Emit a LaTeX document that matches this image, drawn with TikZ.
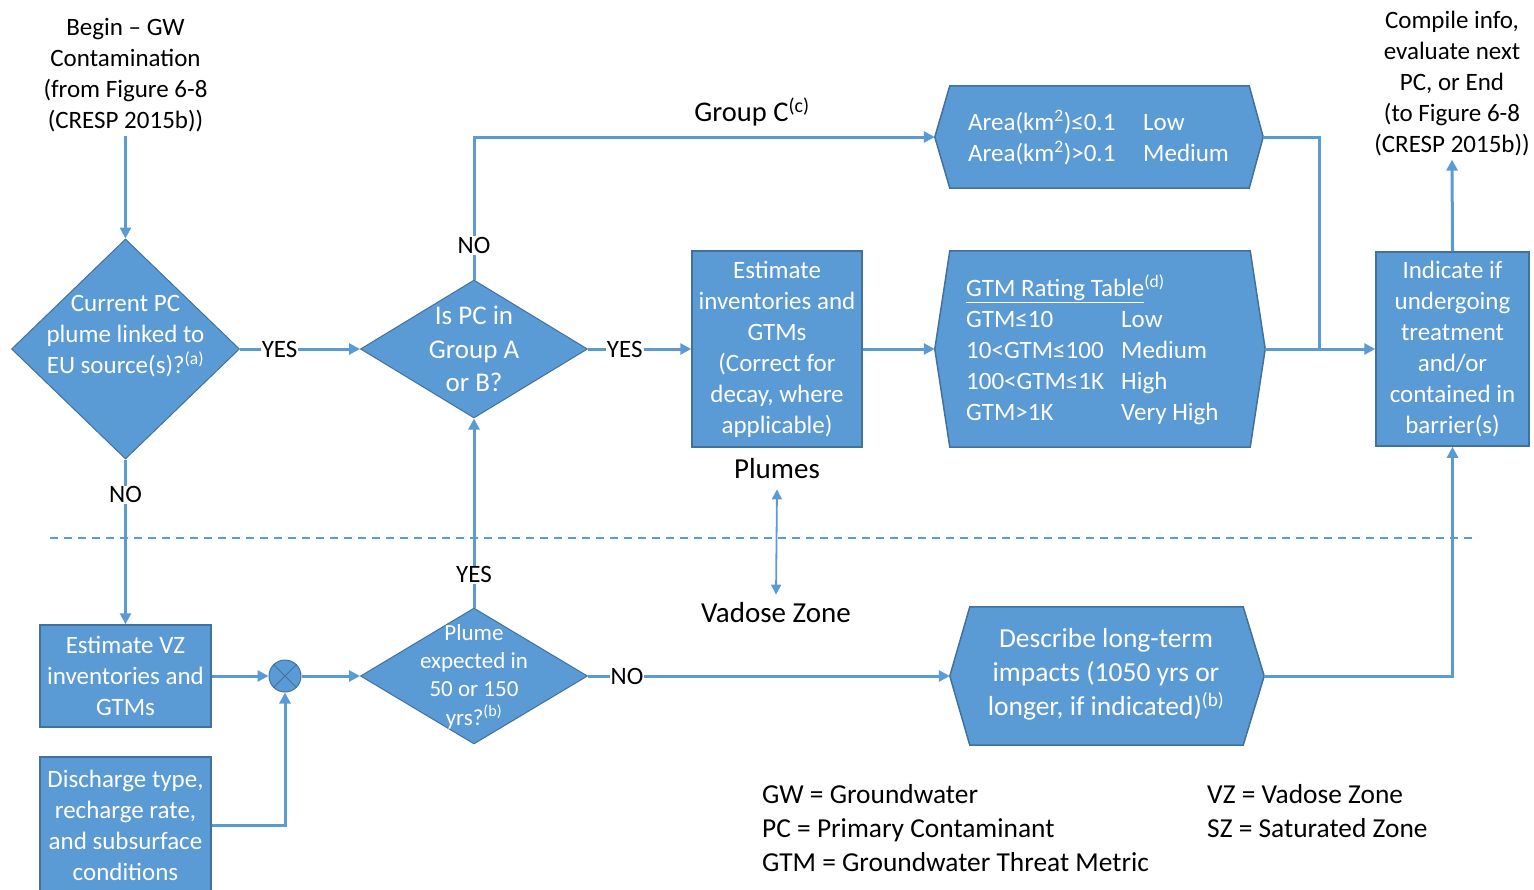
\documentclass[tikz,border=0pt]{standalone}
\usepackage{fontspec}
\setmainfont{Carlito}
\usetikzlibrary{arrows.meta,shapes.geometric,calc}
\definecolor{boxfill}{RGB}{91,155,213}
\definecolor{boxedge}{RGB}{65,113,156}
\definecolor{linec}{RGB}{91,155,213}
\newcommand{\fsz}[2]{\fontsize{#1}{#2}\selectfont}
\begin{document}
\begin{tikzpicture}[x=1pt,y=-1pt,
  tip/.tip={Triangle[length=11pt,width=11pt]},
  flow/.style={draw=linec, line width=3pt, -tip},
  plain/.style={draw=linec, line width=3pt},
  boxst/.style={rectangle, fill=boxfill, draw=boxedge, line width=1.5pt, text=white, align=center, font=\fsz{25}{31}, inner sep=0pt},
  dia/.style={diamond, fill=boxfill, draw=boxedge, line width=1pt, inner sep=0pt, aspect=1},
  anchorbox/.style={rectangle, inner sep=0pt},
  hexst/.style={fill=boxfill, draw=boxedge, line width=1.5pt},
  wtext/.style={text=white, align=center, font=\fsz{25}{31}, inner sep=0pt},
  btext/.style={text=black, align=center, font=\fsz{25}{31}, inner sep=3pt},
  lab/.style={fill=white, text=black, inner sep=1pt, font=\fsz{25}{30}}
]
\useasboundingbox (0,0) rectangle (1534,889);

% ---------- free texts ----------
\node[btext] (begin) at (125.5,75.5) {Begin – GW\\Contamination\\(from Figure 6-8\\(CRESP 2015b))};
\node[btext] (compile) at (1452,84) {Compile info,\\evaluate next\\PC, or End\\(to Figure 6-8\\(CRESP 2015b))};
\node[btext, font=\fsz{28.5}{34}] (groupc) at (752,112) {Group C\textsuperscript{(c)}};
\node[btext, font=\fsz{29}{34}] (plumes) at (777,469) {Plumes};
\node[btext, font=\fsz{29}{34}] (vadose) at (776,613) {Vadose Zone};

% ---------- diamonds ----------
\node[dia, minimum width=228pt, minimum height=220pt] (d1) at (125.5,349) {};
\node[wtext] at (125.5,336.5) {Current PC\\plume linked to\\EU source(s)?\textsuperscript{(a)}};
\node[dia, minimum width=227pt, minimum height=138pt] (d2) at (474,349) {};
\node[wtext, font=\fsz{27}{33.5}] at (474,349) {Is PC in\\Group A\\or B?};
\node[dia, minimum width=227pt, minimum height=136pt] (d3) at (474,676) {};
\node[wtext, font=\fsz{23}{28.3}] at (474,676.5) {Plume\\expected in\\50 or 150\\yrs?\textsuperscript{(b)}};

% ---------- boxes ----------
\node[boxst, minimum width=171pt, minimum height=102pt] (vzbox) at (125.5,676) {Estimate VZ\\inventories and\\GTMs};
\node[boxst, minimum width=171pt, minimum height=136pt] (disc) at (125.5,825) {Discharge type,\\recharge rate,\\and subsurface\\conditions};
\node[boxst, minimum width=170pt, minimum height=196pt] (est) at (777,349) {Estimate\\inventories and\\GTMs\\(Correct for\\decay, where\\applicable)};
\node[boxst, minimum width=153pt, minimum height=194pt] (ind) at (1452.5,349) {Indicate if\\undergoing\\treatment\\and/or\\contained in\\barrier(s)};

% ---------- hexagons ----------
\node[anchorbox, minimum width=328pt, minimum height=102pt] (h1) at (1099,137) {};
\node[anchorbox, minimum width=330pt, minimum height=196pt] (h2) at (1100,349) {};
\node[anchorbox, minimum width=314pt, minimum height=138pt] (h3) at (1107,676) {};
\path[hexst] (h1.west) -- ([xshift=15pt]h1.north west) -- ([xshift=-14pt]h1.north east) -- (h1.east) -- ([xshift=-14pt]h1.south east) -- ([xshift=15pt]h1.south west) -- cycle;
\path[hexst] (h2.west) -- ([xshift=15pt]h2.north west) -- ([xshift=-15pt]h2.north east) -- (h2.east) -- ([xshift=-15pt]h2.south east) -- ([xshift=15pt]h2.south west) -- cycle;
\path[hexst] (h3.west) -- ([xshift=20pt]h3.north west) -- ([xshift=-21pt]h3.north east) -- (h3.east) -- ([xshift=-21pt]h3.south east) -- ([xshift=20pt]h3.south west) -- cycle;
\node[wtext, anchor=west, align=left] at (968,137.5) {\makebox[175pt][l]{Area(km\textsuperscript{2})≤0.1}Low\\\makebox[175pt][l]{Area(km\textsuperscript{2})>0.1}Medium};
\node[wtext, anchor=west, align=left] at (966,350) {\underline{GTM Rating Table}\textsuperscript{(d)}\\\makebox[155pt][l]{GTM≤10}Low\\\makebox[155pt][l]{10<GTM≤100}Medium\\\makebox[155pt][l]{100<GTM≤1K}High\\\makebox[155pt][l]{GTM>1K}Very High};
\node[wtext, font=\fsz{27.5}{34}] at (1106,674) {Describe long-term\\impacts (1050 yrs or\\longer, if indicated)\textsuperscript{(b)}};

% ---------- summing junction ----------
\node[circle, minimum size=32pt, inner sep=0pt, fill=boxfill, draw=boxedge, line width=1pt] (sum) at (285,676) {};
\draw[boxedge, line width=1pt] (sum.north west) -- (sum.south east) (sum.north east) -- (sum.south west);

% ---------- connectors ----------
\coordinate (join) at (1319,349);
\draw[flow] (begin.south) -- (d1.north);
\draw[flow] (d1.east) -- node[lab, pos=0.33] {YES} (d2.west);
\draw[flow] (d1.south) -- node[lab, pos=0.214] {NO} (vzbox.north);
\draw[flow] (vzbox.east) -- (sum.west);
\draw[flow] (disc.east) -| (sum.south);
\draw[flow] (sum.east) -- (d3.west);
\draw[flow] (d3.north) -- node[lab, pos=0.173] {YES} (d2.south);
\draw[flow] (d2.north) |- node[lab, pos=0.119] {NO} (h1.west);
\draw[flow] (d2.east) -- node[lab, pos=0.356] {YES} (est.west);
\draw[flow] (est.east) -- (h2.west);
\draw[flow] (h2.east) -- (ind.west);
\draw[plain] (h1.east) -| (join);
\draw[flow] (d3.east) -- node[lab, pos=0.108] {NO} (h3.west);
\draw[flow] (h3.east) -| (ind.south);
\draw[flow] (ind.north) -- (compile.south);
\draw[linec, line width=1.8pt, {Triangle[length=10pt,width=10pt]}-{Triangle[length=10pt,width=10pt]}] ([yshift=-7pt]plumes.south) -- ([yshift=5pt]vadose.north);

% ---------- zone divider ----------
\coordinate (dashL) at (50,538);
\coordinate (dashR) at (1478,538);
\draw[linec, line width=1.6pt, dash pattern=on 8pt off 6pt] (dashL) -- (dashR);

% ---------- legend ----------
\node[btext, anchor=west, align=left, font=\fsz{27.4}{34}, inner sep=0pt] (legL) at (762,828) {GW = Groundwater\\PC = Primary Contaminant\\GTM = Groundwater Threat Metric};
\node[btext, anchor=west, align=left, font=\fsz{27.4}{34}, inner sep=0pt] (legR) at (1207,811) {VZ = Vadose Zone\\SZ = Saturated Zone};
\end{tikzpicture}
\end{document}
